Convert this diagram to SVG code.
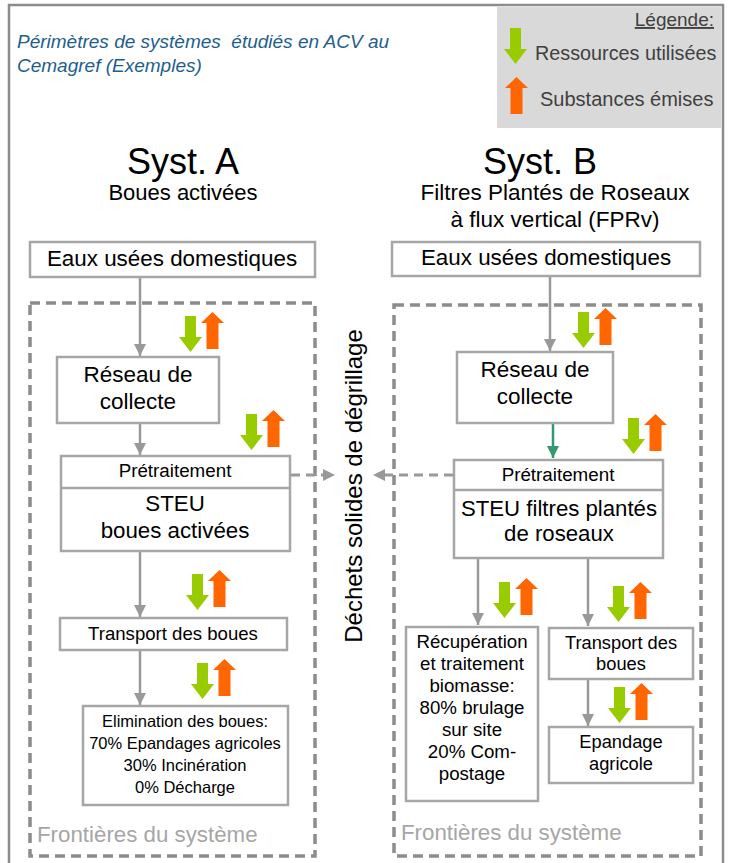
<svg xmlns="http://www.w3.org/2000/svg" width="729" height="863" viewBox="0 0 729 863">
<defs>
<style>
.t{font-family:"Liberation Sans",Arial,sans-serif;fill:#000;text-anchor:middle}
.box{fill:#fff;stroke:#a6a6a6;stroke-width:2.5}
.ln{stroke:#999;stroke-width:2.5;fill:none}
.dash{fill:none;stroke:#8c8c8c;stroke-width:3.5;stroke-dasharray:10 6}
.fr{font-family:"Liberation Sans",Arial,sans-serif;fill:#a6a6a6;font-size:22.3px}
.lg{font-family:"Liberation Sans",Arial,sans-serif;fill:#404040}
</style>
<marker id="ah" viewBox="0 0 10 10" refX="10" refY="5" markerWidth="5" markerHeight="5" orient="auto" markerUnits="strokeWidth">
<path d="M0,0 L10,5 L0,10 z" fill="#999"/>
</marker>
<marker id="ahg" viewBox="0 0 10 10" refX="10" refY="5" markerWidth="5" markerHeight="5" orient="auto" markerUnits="strokeWidth">
<path d="M0,0 L10,5 L0,10 z" fill="#339970"/>
</marker>
<path id="gd" d="M6,0 H17 V21 H23 L11.5,36 L0,21 H6 Z" fill="#99cc00"/>
<path id="ou" d="M11.5,0 L23,11 H17.5 V37 H5.5 V11 H0 Z" fill="#ff6600"/>
<g id="pair"><use href="#gd"/><use href="#ou" x="22" y="-4"/></g>
</defs>
<rect x="0" y="0" width="729" height="863" fill="#fff"/>
<rect x="9" y="5" width="714" height="870" fill="none" stroke="#8c8c8c" stroke-width="2.5"/>

<g id="legend">
<rect x="497" y="7" width="224" height="121" fill="#d9d9d9"/>
<text class="lg" x="714" y="26" font-size="19" text-anchor="end" text-decoration="underline">Légende:</text>
<use href="#gd" x="504" y="28"/>
<text class="lg" x="535" y="60" font-size="19.8">Ressources utilisées</text>
<use href="#ou" x="505" y="77"/>
<text class="lg" x="540" y="106" font-size="20">Substances émises</text>
</g>

<g id="title">
<text x="17" y="48" font-family="Liberation Sans,Arial,sans-serif" font-style="italic" font-size="19" fill="#215e8e" xml:space="preserve">Périmètres de systèmes  étudiés en ACV au</text>
<text x="17" y="72" font-family="Liberation Sans,Arial,sans-serif" font-style="italic" font-size="19" fill="#215e8e">Cemagref (Exemples)</text>
</g>

<g id="headA">
<text class="t" x="183" y="174" font-size="36">Syst. A</text>
<text class="t" x="183" y="200" font-size="22">Boues activées</text>
</g>
<g id="headB">
<text class="t" x="540" y="174" font-size="36">Syst. B</text>
<text class="t" x="555" y="200" font-size="22.5">Filtres Plantés de Roseaux</text>
<text class="t" x="555" y="227" font-size="22.5">à flux vertical (FPRv)</text>
</g>

<g id="boundaries">
<rect class="dash" x="30" y="303" width="285" height="553"/>
<rect class="dash" x="394" y="305" width="307" height="551"/>
<text class="fr" x="37" y="842">Frontières du système</text>
<text class="fr" x="401" y="840">Frontières du système</text>
</g>

<g id="connectors">
<line class="ln" x1="140" y1="277" x2="140" y2="356" marker-end="url(#ah)"/>
<line class="ln" x1="140" y1="423" x2="140" y2="455" marker-end="url(#ah)"/>
<line class="ln" x1="140" y1="551" x2="140" y2="617" marker-end="url(#ah)"/>
<line class="ln" x1="140" y1="650" x2="140" y2="705" marker-end="url(#ah)"/>
<line class="ln" x1="550" y1="276" x2="550" y2="351" marker-end="url(#ah)"/>
<line x1="553" y1="423" x2="553" y2="458" stroke="#339970" stroke-width="2.5" marker-end="url(#ahg)"/>
<line class="ln" x1="478" y1="558" x2="478" y2="625" marker-end="url(#ah)"/>
<line class="ln" x1="588" y1="558" x2="588" y2="626" marker-end="url(#ah)"/>
<line class="ln" x1="588" y1="679" x2="588" y2="726" marker-end="url(#ah)"/>
<line x1="291" y1="475" x2="323" y2="475" stroke="#999" stroke-width="3" stroke-dasharray="9 6"/>
<path d="M323,469 L335,475 L323,481 Z" fill="#999"/>
<line x1="453" y1="475" x2="385" y2="475" stroke="#999" stroke-width="3" stroke-dasharray="9 6"/>
<path d="M385,469 L373,475 L385,481 Z" fill="#999"/>
<text class="t" transform="translate(362,486) rotate(-90)" font-size="24">Déchets solides de dégrillage</text>
</g>

<g id="flows">
<use href="#pair" x="179" y="316"/>
<use href="#pair" x="240" y="414"/>
<use href="#pair" x="186" y="574"/>
<use href="#pair" x="191" y="663"/>
<use href="#pair" x="572" y="312"/>
<use href="#pair" x="622" y="418"/>
<use href="#pair" x="493" y="582"/>
<use href="#pair" x="607" y="586"/>
<use href="#pair" x="608" y="687"/>
</g>

<g id="eauxA">
<rect class="box" x="30" y="242" width="285" height="35"/>
<text class="t" x="172" y="266" font-size="22.4">Eaux usées domestiques</text>
</g>
<g id="reseauA">
<rect class="box" x="57" y="357" width="162" height="66"/>
<text class="t" x="138" y="382" font-size="22.5">Réseau de</text>
<text class="t" x="138" y="409" font-size="22.5">collecte</text>
</g>
<g id="steuA">
<rect class="box" x="61" y="456" width="229" height="95"/>
<line x1="61" y1="488" x2="290" y2="488" stroke="#a6a6a6" stroke-width="2.5"/>
<text class="t" x="175" y="477" font-size="18.8">Prétraitement</text>
<text class="t" x="175" y="511" font-size="22.3">STEU</text>
<text class="t" x="175" y="538" font-size="22.3">boues activées</text>
</g>
<g id="transportA">
<rect class="box" x="60" y="618" width="227" height="32"/>
<text class="t" x="173" y="640" font-size="18.6">Transport des boues</text>
</g>
<g id="eliminationA">
<rect class="box" x="83" y="706" width="205" height="99"/>
<text class="t" x="185" y="727" font-size="16.5">Elimination des boues:</text>
<text class="t" x="185" y="749" font-size="16.5">70% Epandages agricoles</text>
<text class="t" x="185" y="771" font-size="16.5">30% Incinération</text>
<text class="t" x="185" y="793" font-size="16.5">0% Décharge</text>
</g>

<g id="eauxB">
<rect class="box" x="392" y="242" width="308" height="34"/>
<text class="t" x="546" y="265" font-size="22.4">Eaux usées domestiques</text>
</g>
<g id="reseauB">
<rect class="box" x="457" y="352" width="156" height="71"/>
<text class="t" x="535" y="377" font-size="22.5">Réseau de</text>
<text class="t" x="535" y="404" font-size="22.5">collecte</text>
</g>
<g id="steuB">
<rect class="box" x="454" y="460" width="209" height="98"/>
<line x1="454" y1="490" x2="663" y2="490" stroke="#a6a6a6" stroke-width="2.5"/>
<text class="t" x="558" y="481" font-size="18.8">Prétraitement</text>
<text class="t" x="559" y="516" font-size="22.2">STEU filtres plantés</text>
<text class="t" x="559" y="541" font-size="22.2">de roseaux</text>
</g>
<g id="recuperationB">
<rect class="box" x="406" y="627" width="132" height="174"/>
<text class="t" x="472" y="648" font-size="18.7">Récupération</text>
<text class="t" x="472" y="670" font-size="18.7">et traitement</text>
<text class="t" x="472" y="692" font-size="18.7">biomasse:</text>
<text class="t" x="472" y="714" font-size="18.7">80% brulage</text>
<text class="t" x="472" y="736" font-size="18.7">sur site</text>
<text class="t" x="472" y="758" font-size="18.7">20% Com-</text>
<text class="t" x="472" y="780" font-size="18.7">postage</text>
</g>
<g id="transportB">
<rect class="box" x="549" y="628" width="144" height="51"/>
<text class="t" x="621" y="649" font-size="18.3">Transport des</text>
<text class="t" x="621" y="670" font-size="18.3">boues</text>
</g>
<g id="epandageB">
<rect class="box" x="549" y="727" width="144" height="56"/>
<text class="t" x="621" y="748" font-size="18.3">Epandage</text>
<text class="t" x="621" y="770" font-size="18.3">agricole</text>
</g>
</svg>
